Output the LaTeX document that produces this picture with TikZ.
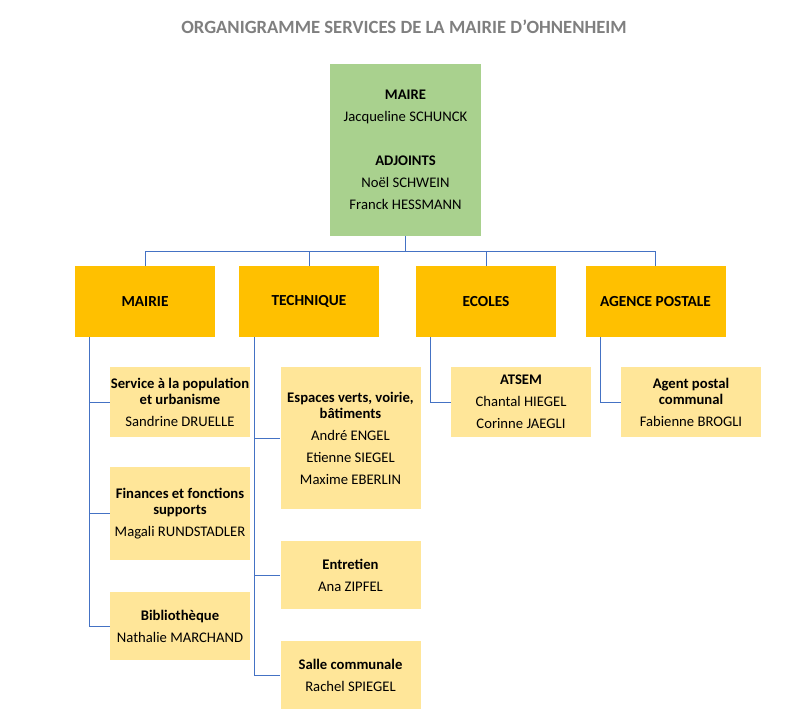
\documentclass[tikz,border=0pt]{standalone}
\usepackage{fontspec}
\setmainfont{Carlito}
\usetikzlibrary{positioning}
\definecolor{vert}{HTML}{A9D18E}
\definecolor{orange}{HTML}{FFC000}
\definecolor{jaune}{HTML}{FFE699}
\definecolor{bleu}{HTML}{4472C4}
\definecolor{gris}{HTML}{7F7F7F}
\tikzset{chef/.style={rectangle, fill=vert, align=center, minimum width=113.25pt, minimum height=129pt, inner sep=0pt},
  serv/.style={rectangle, fill=orange, align=center, minimum width=105pt, minimum height=53.25pt, inner sep=0pt, font=\bfseries\fontsize{11.5}{14}\selectfont},
  agent/.style={rectangle, fill=jaune, align=center, minimum width=105pt, inner sep=0pt},
  lien/.style={draw=bleu, line width=0.75pt}}

\begin{document}
\begin{tikzpicture}[x=0.75pt, y=-0.75pt, font=\fontsize{11}{12}\selectfont]
\useasboundingbox (0,0) rectangle (801,725);
\node (titre) at (404,27) [text=gris, font=\bfseries\fontsize{14}{16}\selectfont] {ORGANIGRAMME SERVICES DE LA MAIRIE D’OHNENHEIM};
% maire et adjoints
\node (maire) at (405.5,150) [chef] {\textbf{MAIRE}\\[4.5pt] Jacqueline SCHUNCK\\[21pt] \textbf{ADJOINTS}\\[4.5pt] Noël SCHWEIN\\[4.5pt] Franck HESSMANN};
% services
\node (mairie) at (145,301.5) [serv] {MAIRIE};
\node (tech) at (309,301.5) [serv] {TECHNIQUE};
\node (ecoles) at (486,301.5) [serv] {ECOLES};
\node (poste) at (655.5,301.5) [serv] {AGENCE POSTALE};
% agents
\node (pop) at (180,402) [agent, minimum height=52.5pt] {\textbf{Service à la population}\\ \textbf{et urbanisme}\\[4.5pt] Sandrine DRUELLE};
\node (fin) at (180,513.5) [agent, minimum height=69.75pt] {\textbf{Finances et fonctions}\\ \textbf{supports}\\[4.5pt] Magali RUNDSTADLER};
\node (biblio) at (180,626) [agent, minimum height=51pt] {\textbf{Bibliothèque}\\[4.5pt] Nathalie MARCHAND};
\node (espaces) at (350.5,438) [agent, minimum height=106.5pt] {\textbf{Espaces verts, voirie,}\\ \textbf{bâtiments}\\[4.5pt] André ENGEL\\[4.5pt] Etienne SIEGEL\\[4.5pt] Maxime EBERLIN};
\node (entretien) at (350.5,575) [agent, minimum height=51pt] {\textbf{Entretien}\\[4.5pt] Ana ZIPFEL};
\node (salle) at (350.5,675) [agent, minimum height=51pt] {\textbf{Salle communale}\\[4.5pt] Rachel SPIEGEL};
\node (atsem) at (521,402) [agent, minimum height=52.5pt] {\textbf{ATSEM}\\[4.5pt] Chantal HIEGEL\\[4.5pt] Corinne JAEGLI};
\node (postal) at (691,402) [agent, minimum height=52.5pt] {\textbf{Agent postal}\\ \textbf{communal}\\[4.5pt] Fabienne BROGLI};
% liens
\coordinate (bus) at (405.5,251);
\coordinate (mairieL) at (89,337);
\coordinate (techL) at (254,337);
\coordinate (ecolesL) at (430,337);
\coordinate (posteL) at (600,337);
\draw[lien] (maire.south)--(bus) (bus)-|(mairie.north) (bus)-|(tech.north)
      (bus)-|(ecoles.north) (bus)-|(poste.north);
\draw[lien] (mairieL)|-(pop.west) (mairieL)|-(fin.west) (mairieL)|-(biblio.west);
\draw[lien] (techL)|-(espaces.west) (techL)|-(entretien.west) (techL)|-(salle.west);
\draw[lien] (ecolesL)|-(atsem.west) (posteL)|-(postal.west);
\end{tikzpicture}
\end{document}
